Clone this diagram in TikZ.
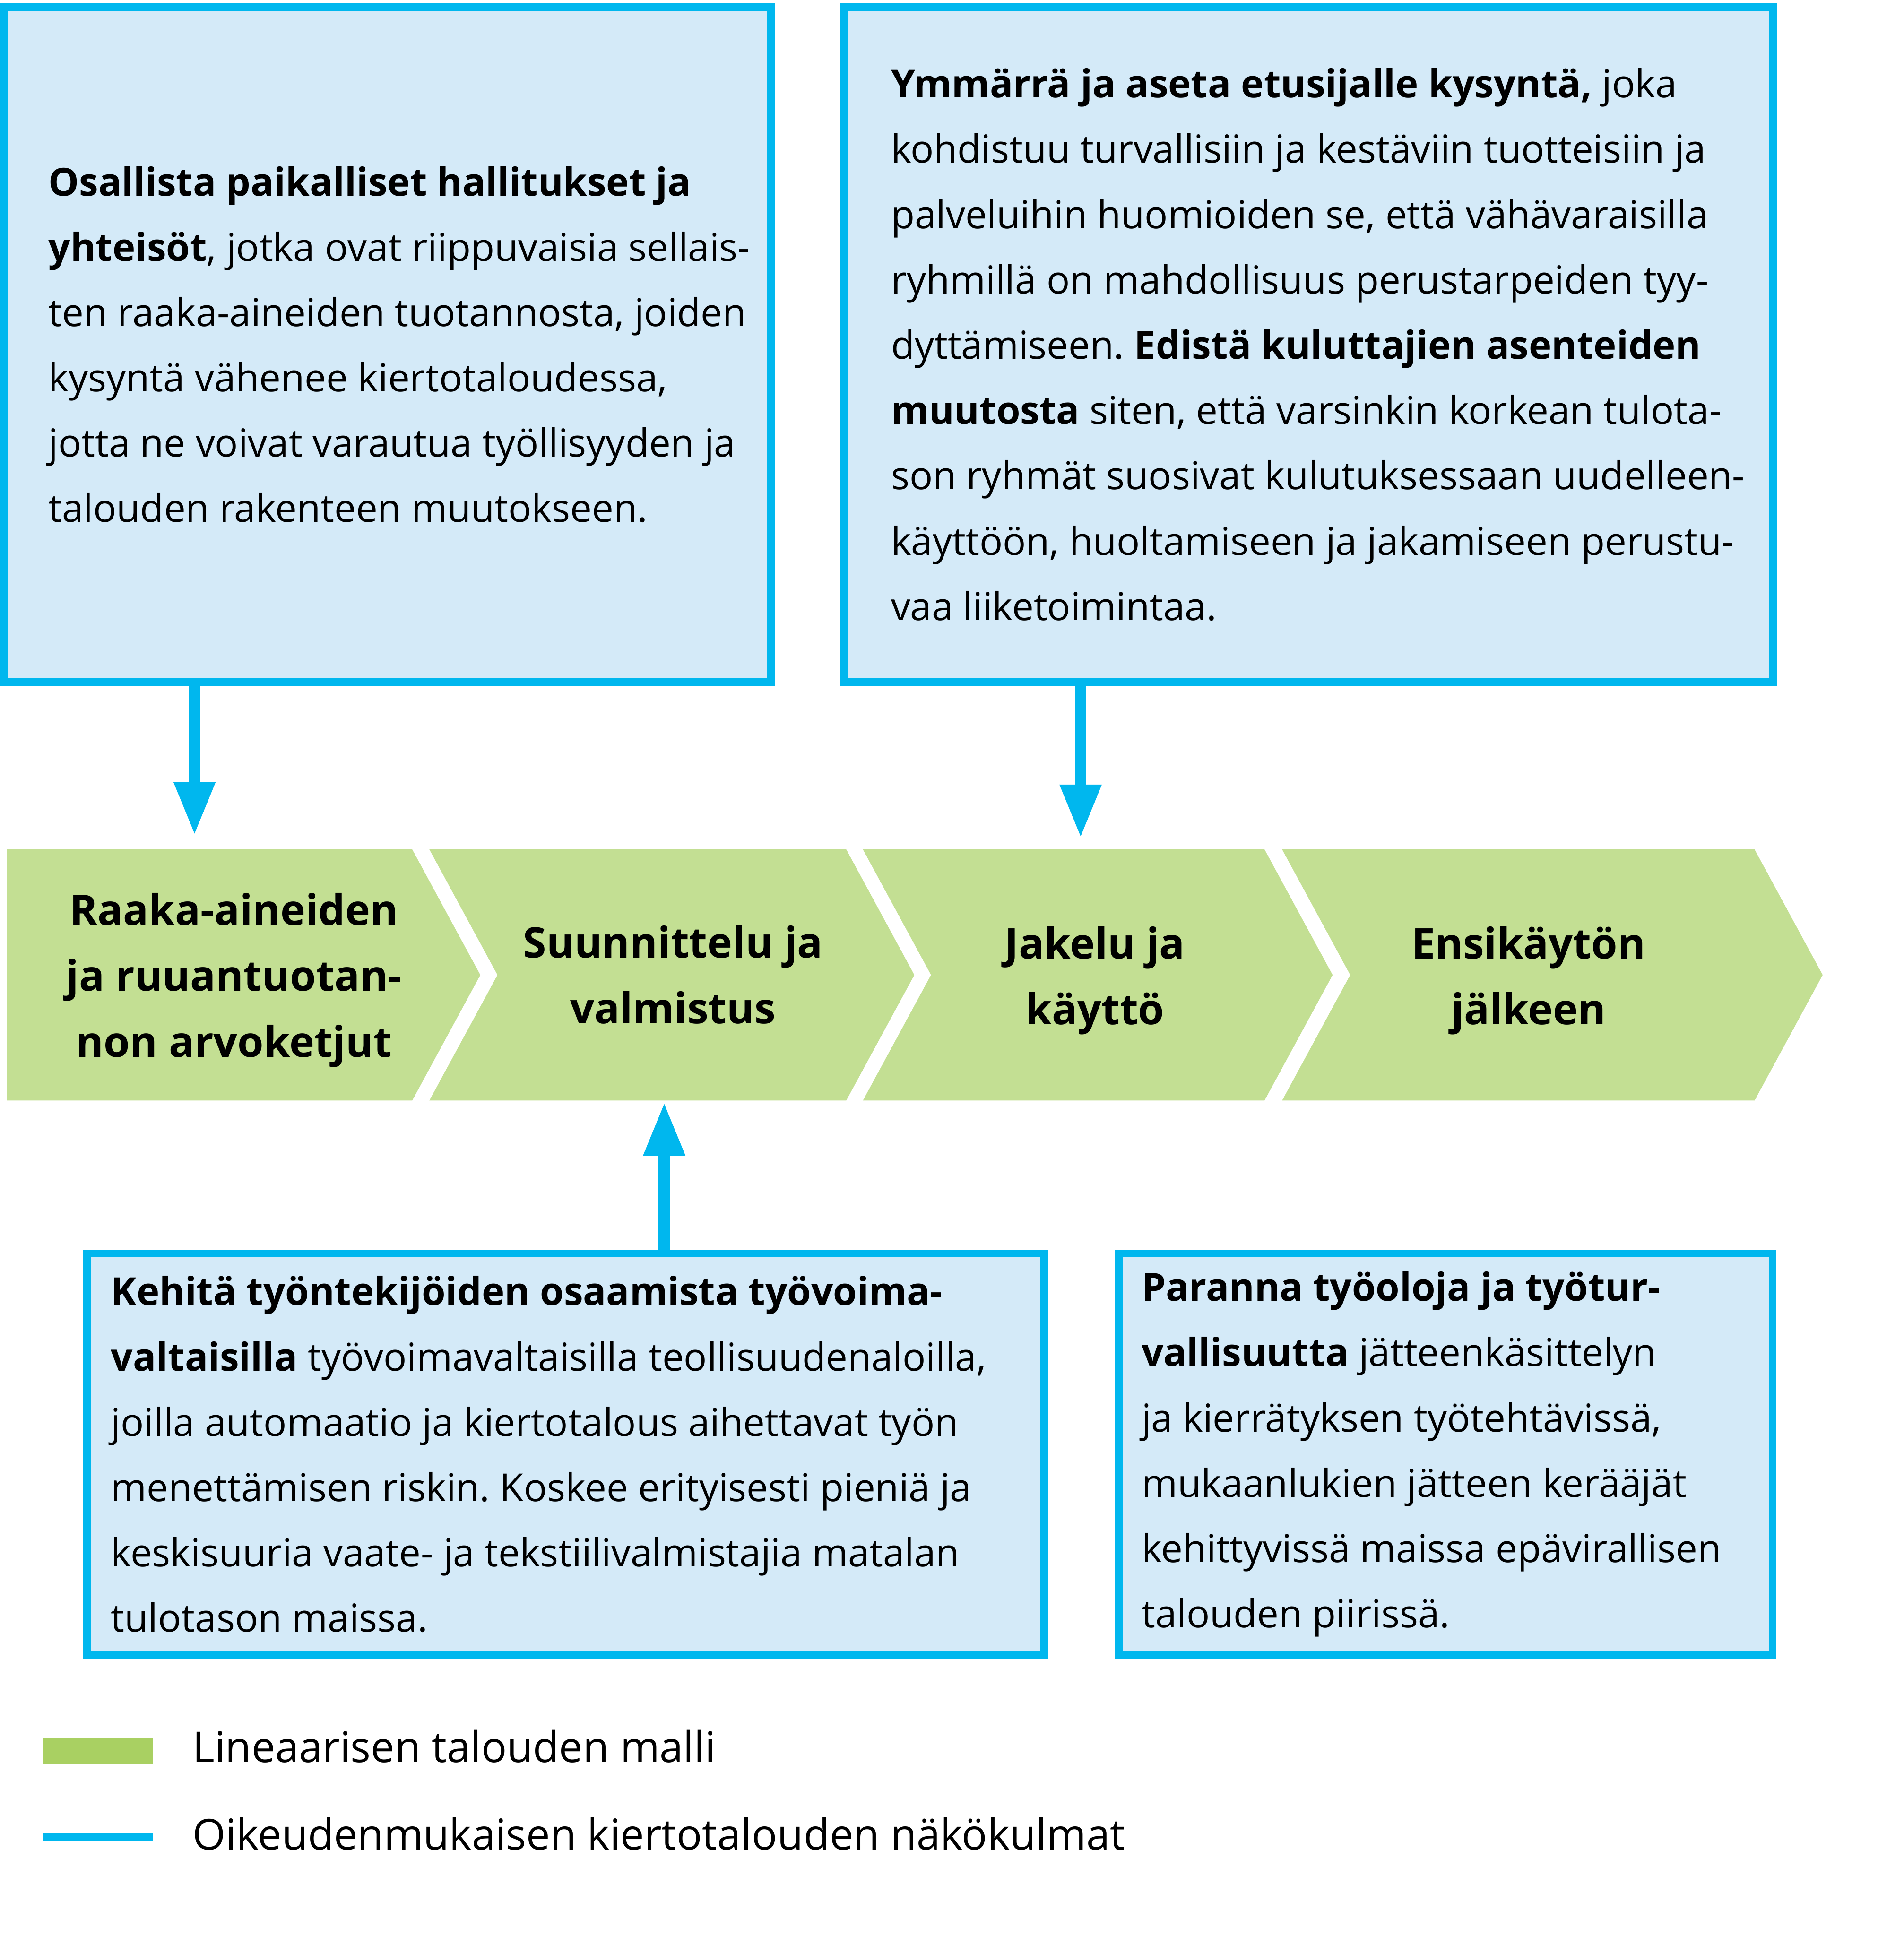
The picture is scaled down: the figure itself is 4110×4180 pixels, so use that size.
\documentclass[tikz,border=0pt]{standalone}
\usepackage{fontspec}
\setmainfont{Open Sans}
\frenchspacing
\usetikzlibrary{arrows.meta,positioning}
\definecolor{ceblue}{HTML}{00B7EE}
\definecolor{celight}{HTML}{D4EAF8}
\definecolor{cegreen}{HTML}{C3DF93}
\definecolor{celegend}{HTML}{A9D062}

\begin{document}
\begin{tikzpicture}[x=0.01cm,y=-0.01cm,
    aspect/.style={draw=ceblue,fill=celight,line width=0.17cm,
                   inner sep=0pt,outer sep=0pt},
    txt/.style={anchor=west,align=left,inner sep=0pt,
                font=\fontsize{23.7}{40.1}\selectfont},
    stage/.style={align=center,inner sep=0pt,
                  font=\bfseries\fontsize{26}{40.4}\selectfont},
    chev/.style={fill=cegreen},
    arr/.style={-{Triangle[length=1.15cm,width=0.84cm]},line width=0.24cm,ceblue},
    leg/.style={anchor=base west,inner sep=0pt,font=\fontsize{26.1}{30}\selectfont}
  ]
  \useasboundingbox (0,0) rectangle (4110,4180);

  % value chain
  \foreach \l/\r/\n in {15/890/0,927/1827/147,1863/2730/147,2768/3788/147}
    \fill[chev] (\l,1834) -- (\r,1834) -- ++(147,271) -- (\r,2376)
      -- (\l,2376) -- ++(\n,-271) -- cycle;

  \node[stage] (c1) at (505,2116) {Raaka-aineiden\\ja ruuantuotan-\\non arvoketjut};
  \node[stage] (c2) at (1453,2105) {Suunnittelu ja\\valmistus};
  \node[stage] (c3) at (2364,2117) {Jakelu ja\\käyttö};
  \node[stage] (c4) at (3300,2117) {Ensikäytön\\jälkeen};

  % aspects
  \node[aspect,minimum width=16.56cm,minimum height=14.55cm] (b1) at (836.5,744) {};
  \node[aspect,minimum width=20.03cm,minimum height=14.55cm] (b2) at (2825,744) {};
  \node[aspect,minimum width=20.65cm,minimum height=8.66cm] (b3) at (1221,3139.5) {};
  \node[aspect,minimum width=14.11cm,minimum height=8.66cm] (b4) at (3121,3139.5) {};

  \node[txt] (t1) at (104,744)
    {\textbf{Osallista paikalliset hallitukset ja}\\
     \textbf{yhteisöt}, jotka ovat riippuvaisia sellais-\\
     ten raaka-aineiden tuotannosta, joiden\\
     kysyntä vähenee kiertotaloudessa,\\
     jotta ne voivat varautua työllisyyden ja\\
     talouden rakenteen muutokseen.};
  \node[txt] (t2) at (1923,744)
    {\textbf{Ymmärrä ja aseta etusijalle kysyntä,} joka\\
     kohdistuu turvallisiin ja kestäviin tuotteisiin ja\\
     palveluihin huomioiden se, että vähävaraisilla\\
     ryhmillä on mahdollisuus perustarpeiden tyy-\\
     dyttämiseen. \textbf{Edistä kuluttajien asenteiden}\\
     \textbf{muutosta} siten, että varsinkin korkean tulota-\\
     son ryhmät suosivat kulutuksessaan uudelleen-\\
     käyttöön, huoltamiseen ja jakamiseen perustu-\\
     vaa liiketoimintaa.};
  \node[txt] (t3) at (239,3140)
    {\textbf{Kehitä työntekijöiden osaamista työvoima-}\\
     \textbf{valtaisilla} työvoimavaltaisilla teollisuudenaloilla,\\
     joilla automaatio ja kiertotalous aihettavat työn\\
     menettämisen riskin. Koskee erityisesti pieniä ja\\
     keskisuuria vaate- ja tekstiilivalmistajia matalan\\
     tulotason maissa.};
  \node[txt] (t4) at (2464,3140)
    {\textbf{Paranna työoloja ja työtur-}\\
     \textbf{vallisuutta} jätteenkäsittelyn\\
     ja kierrätyksen työtehtävissä,\\
     mukaanlukien jätteen kerääjät\\
     kehittyvissä maissa epävirallisen\\
     talouden piirissä.};

  \coordinate (a1) at (420,1803);
  \coordinate (a2) at (2333,1809);
  \coordinate (a3) at (1434,2380);
  \draw[arr] (a1 |- b1.south) -- (a1);
  \draw[arr] (a2 |- b2.south) -- (a2);
  \draw[arr] (a3 |- b3.north) -- (a3);

  % legend
  \node[fill=celegend,inner sep=0pt,minimum width=2.36cm,minimum height=0.56cm] (k1) at (212,3780) {};
  \node[leg] (k1txt) at (415,3805) {Lineaarisen talouden malli};
  \coordinate (k2a) at (94,3967);
  \coordinate (k2b) at (330,3967);
  \draw[line width=0.16cm,ceblue] (k2a) -- (k2b);
  \node[leg] (k2txt) at (415,3994) {Oikeudenmukaisen kiertotalouden näkökulmat};
\end{tikzpicture}
\end{document}
